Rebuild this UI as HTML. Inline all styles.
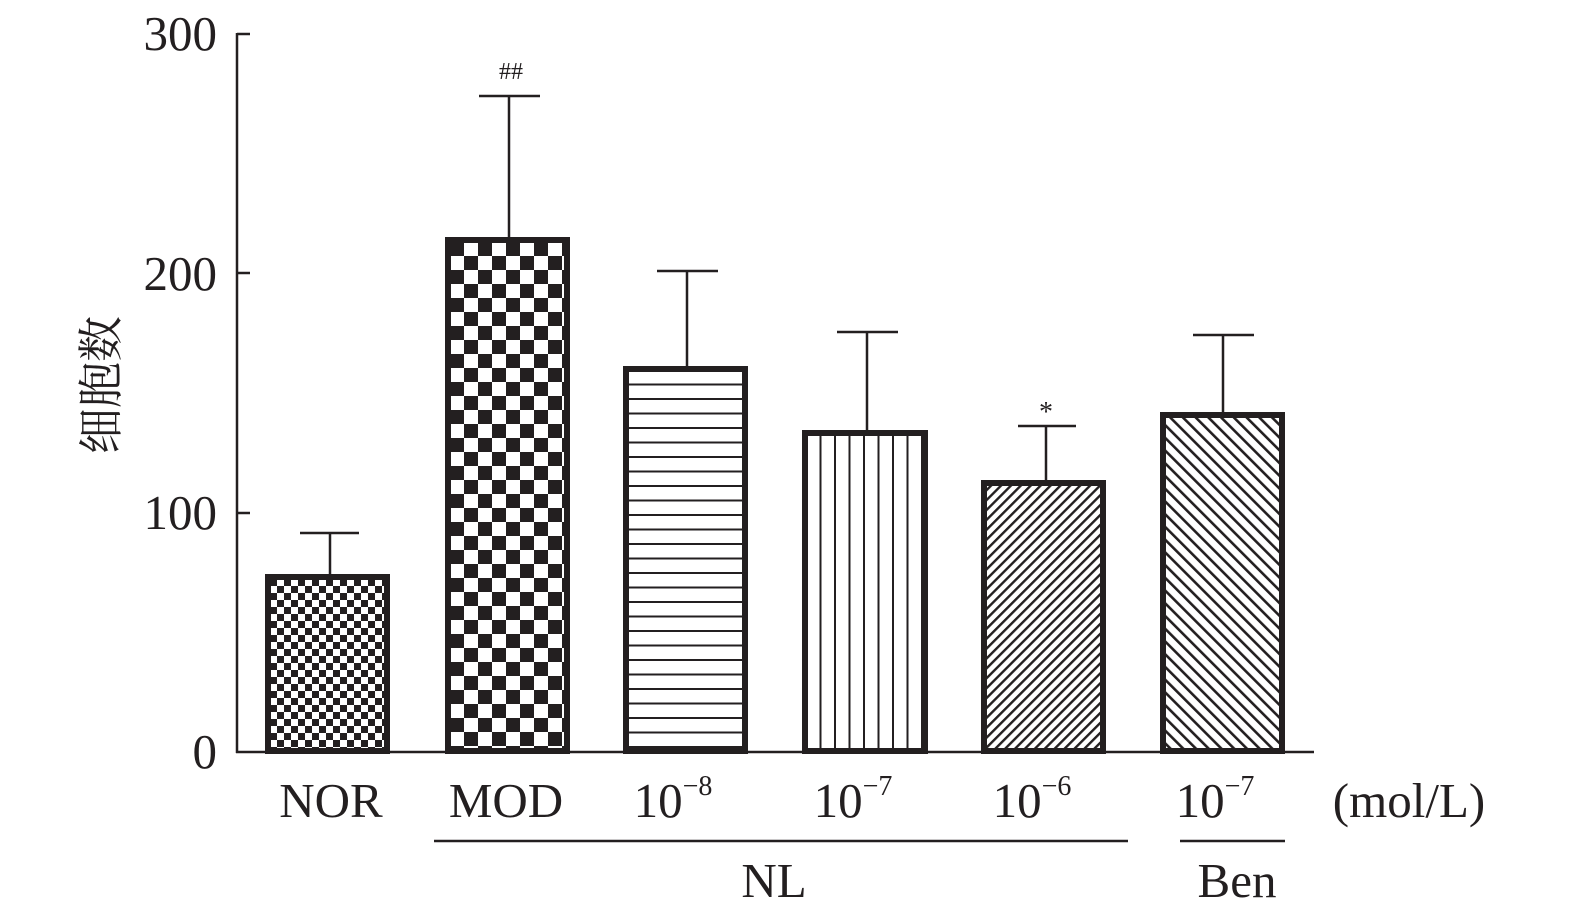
<!DOCTYPE html>
<html><head><meta charset="utf-8"><style>
html,body{margin:0;padding:0;background:#fff;}
svg{display:block;}
text{font-family:"Liberation Serif","Noto Serif CJK SC",serif;fill:#231f20;}
</style></head><body>
<svg width="1575" height="923" viewBox="0 0 1575 923" xmlns="http://www.w3.org/2000/svg">
<defs>
<pattern id="chk1" width="14" height="14" patternUnits="userSpaceOnUse" x="270" y="579">
<rect width="14" height="14" fill="#fff"/><rect width="7" height="7" fill="#231f20"/><rect x="7" y="7" width="7" height="7" fill="#231f20"/></pattern>
<pattern id="chk2" width="28" height="28" patternUnits="userSpaceOnUse" x="450" y="242">
<rect width="28" height="28" fill="#fff"/><rect width="14" height="14" fill="#231f20"/><rect x="14" y="14" width="14" height="14" fill="#231f20"/></pattern>
<pattern id="hor" width="10" height="14.5" patternUnits="userSpaceOnUse" y="371">
<rect width="10" height="14.5" fill="#fff"/><rect y="12.5" width="10" height="2.4" fill="#231f20"/></pattern>
<pattern id="ver" width="14.5" height="10" patternUnits="userSpaceOnUse" x="807">
<rect width="14.5" height="10" fill="#fff"/><rect x="12.5" width="2.4" height="10" fill="#231f20"/></pattern>
<pattern id="d1" width="7" height="7" patternUnits="userSpaceOnUse" patternTransform="rotate(45)">
<rect width="7" height="7" fill="#fff"/><rect width="2.4" height="7" fill="#231f20"/></pattern>
<pattern id="d2" width="9" height="9" patternUnits="userSpaceOnUse" patternTransform="rotate(-45)">
<rect width="9" height="9" fill="#fff"/><rect width="2.6" height="9" fill="#231f20"/></pattern>
</defs>
<g stroke="#231f20" stroke-width="2.5" fill="none">
<line x1="237" y1="33" x2="237" y2="753"/>
<line x1="236" y1="752" x2="1314" y2="752"/>
<line x1="237" y1="34" x2="250" y2="34"/>
<line x1="237" y1="273" x2="250" y2="273"/>
<line x1="237" y1="513" x2="250" y2="513"/>
<line x1="330" y1="574" x2="330" y2="533"/><line x1="300" y1="533" x2="359" y2="533"/>
<line x1="509" y1="237" x2="509" y2="96"/><line x1="479" y1="96" x2="540" y2="96"/>
<line x1="687" y1="366" x2="687" y2="271"/><line x1="657" y1="271" x2="718" y2="271"/>
<line x1="867" y1="430" x2="867" y2="332"/><line x1="837" y1="332" x2="898" y2="332"/>
<line x1="1046" y1="480" x2="1046" y2="426"/><line x1="1018" y1="426" x2="1076" y2="426"/>
<line x1="1223" y1="412" x2="1223" y2="335"/><line x1="1193" y1="335" x2="1254" y2="335"/>
<line x1="434" y1="841" x2="1128" y2="841"/>
<line x1="1180" y1="841" x2="1285" y2="841"/>
</g>
<g stroke="#231f20" stroke-width="6">
<rect x="268" y="577" width="119" height="174" fill="url(#chk1)"/>
<rect x="448" y="240" width="119" height="511" fill="url(#chk2)"/>
<rect x="626" y="369" width="119" height="382" fill="url(#hor)"/>
<rect x="805" y="433" width="120" height="318" fill="url(#ver)"/>
<rect x="984" y="483" width="119" height="268" fill="url(#d1)"/>
<rect x="1163" y="415" width="119" height="336" fill="url(#d2)"/>
</g>
<g font-size="49" text-anchor="end">
<text x="217" y="50">300</text>
<text x="217" y="290">200</text>
<text x="217" y="529">100</text>
<text x="217" y="768">0</text>
</g>
<text transform="translate(117,385) rotate(-90)" font-size="46" text-anchor="middle">细胞数</text>
<g font-size="49" text-anchor="middle">
<text x="331" y="817">NOR</text>
<text x="506" y="817">MOD</text>
<text x="673" y="817">10<tspan font-size="28" dy="-22">−8</tspan></text>
<text x="853" y="817">10<tspan font-size="28" dy="-22">−7</tspan></text>
<text x="1032" y="817">10<tspan font-size="28" dy="-22">−6</tspan></text>
<text x="1215" y="817">10<tspan font-size="28" dy="-22">−7</tspan></text>
<text x="1409" y="817">(mol/L)</text>
<text x="774" y="897">NL</text>
<text x="1237" y="897">Ben</text>
</g>
<text x="511" y="79" font-size="24" text-anchor="middle">##</text>
<text x="1046" y="421" font-size="28" text-anchor="middle">*</text>
</svg>
</body></html>
